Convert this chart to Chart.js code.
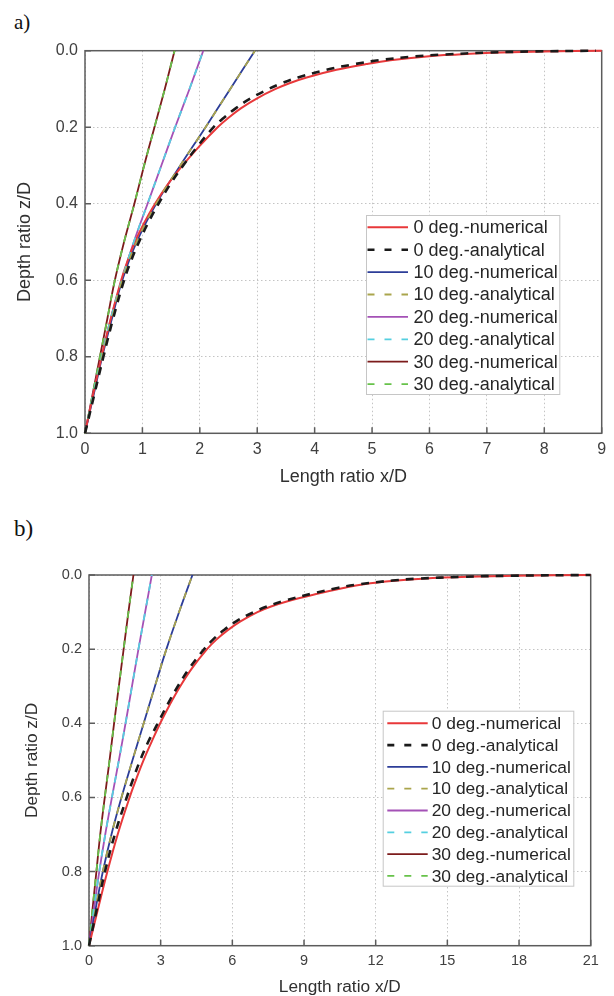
<!DOCTYPE html>
<html>
<head>
<meta charset="utf-8">
<script src="https://cdn.jsdelivr.net/npm/chart.js@4.4.0/dist/chart.umd.min.js"></script>
<style>
  html, body { margin: 0; padding: 0; background: #fff; }
  body { width: 614px; height: 996px; position: relative; overflow: hidden; }
  .panel-label { position: absolute; left: 14px; line-height: 1; color: #111;
    font-family: "Liberation Serif", "DejaVu Serif", serif; }
  .chart-box { position: absolute; left: 0; width: 614px; }
</style>
</head>
<body>
<div class="panel-label" style="top: 12px; font-size: 21px;">a)</div>
<div class="chart-box" style="top: 0; height: 490px;"><canvas id="chartA" width="614" height="490"></canvas></div>
<div class="panel-label" style="top: 517px; font-size: 23px;">b)</div>
<div class="chart-box" style="top: 490px; height: 510px;"><canvas id="chartB" width="614" height="510"></canvas></div>

<script>
// Series names (same for both panels)
const seriesLabels = [
    '0 deg.-numerical', '0 deg.-analytical',
    '10 deg.-numerical', '10 deg.-analytical',
    '20 deg.-numerical', '20 deg.-analytical',
    '30 deg.-numerical', '30 deg.-analytical'
];

// depth ratio z/D used by the inclined cases
const depthSteep = [1.0, 0.9, 0.8, 0.7, 0.6, 0.5, 0.4, 0.3, 0.2, 0.1, 0.0];
// 0 deg curves flatten out towards the surface, so they need more depths
const depthFlat = [1.0, 0.9, 0.8, 0.7, 0.6, 0.55, 0.5, 0.45, 0.4, 0.35, 0.3, 0.25, 0.2, 0.175,
                   0.15, 0.125, 0.1, 0.085, 0.07, 0.05, 0.035, 0.025, 0.015, 0.01, 0.005, 0.002, 0.0];

// Panel a) -- length ratio x/D
const a0num = [0, 0.14, 0.29, 0.45, 0.63, 0.74, 0.87, 1.03, 1.22, 1.44, 1.70, 1.99, 2.31, 2.50,
               2.72, 2.99, 3.32, 3.56, 3.86, 4.38, 4.90, 5.32, 5.95, 6.50, 7.25, 8.00, 9.00];
const a0ana = [0, 0.16, 0.32, 0.49, 0.68, 0.80, 0.94, 1.10, 1.28, 1.48, 1.71, 1.96, 2.24, 2.42,
               2.63, 2.88, 3.20, 3.43, 3.71, 4.20, 4.70, 5.12, 5.75, 6.25, 7.00, 7.80, 8.90];
const a10num = [0, 0.15, 0.30, 0.47, 0.65, 0.90, 1.24, 1.66, 2.10, 2.53, 2.96];
const a10ana = [0, 0.15, 0.30, 0.47, 0.65, 0.90, 1.24, 1.66, 2.10, 2.53, 2.96];
const a20num = [0, 0.14, 0.29, 0.45, 0.64, 0.85, 1.09, 1.33, 1.57, 1.82, 2.06];
const a20ana = [0, 0.14, 0.29, 0.45, 0.64, 0.85, 1.09, 1.33, 1.57, 1.82, 2.06];
const a30num = [0, 0.13, 0.26, 0.39, 0.52, 0.68, 0.86, 1.03, 1.21, 1.39, 1.56];
const a30ana = [0, 0.13, 0.26, 0.39, 0.52, 0.68, 0.86, 1.03, 1.21, 1.39, 1.56];

// Panel b)
const b0num = [0, 0.38, 0.77, 1.20, 1.70, 1.98, 2.28, 2.62, 2.98, 3.38, 3.82, 4.33, 4.94, 5.32,
               5.78, 6.34, 7.05, 7.62, 8.35, 9.60, 10.65, 11.5, 12.9, 13.95, 15.85, 17.9, 21.0];
const b0ana = [0, 0.33, 0.67, 1.08, 1.58, 1.85, 2.14, 2.48, 2.88, 3.28, 3.72, 4.22, 4.82, 5.18,
               5.62, 6.16, 6.90, 7.45, 8.15, 9.35, 10.4, 11.3, 12.7, 13.75, 15.6, 17.6, 21.0];
const b10num = [0, 0.28, 0.58, 0.94, 1.36, 1.82, 2.29, 2.76, 3.24, 3.77, 4.33];
const b10ana = [0, 0.28, 0.58, 0.94, 1.36, 1.82, 2.29, 2.76, 3.24, 3.77, 4.33];
const b20num = [0, 0.21, 0.43, 0.68, 0.96, 1.25, 1.53, 1.80, 2.07, 2.35, 2.63];
const b20ana = [0, 0.21, 0.43, 0.68, 0.96, 1.25, 1.53, 1.80, 2.07, 2.35, 2.63];
const b30num = [0, 0.15, 0.31, 0.47, 0.66, 0.86, 1.05, 1.25, 1.45, 1.65, 1.86];
const b30ana = [0, 0.15, 0.31, 0.47, 0.66, 0.86, 1.05, 1.25, 1.45, 1.65, 1.86];

// Axis ticks
const xMaxA = 9, xStepA = 1;
const xMaxB = 21, xStepB = 3;
const depthTicks = [0, 0.2, 0.4, 0.6, 0.8, 1.0];

const FONT = '"Liberation Sans", Arial, sans-serif';

// line look for each series, in legend order
const styles = [
    { color: '#e8383a', width: 2, dash: [], order: 1 },
    { color: '#1a1a1a', width: 2.6, dash: [8, 7], order: 0 },
    { color: '#2c3d98', width: 1.8, dash: [], order: 1 },
    { color: '#aaa54c', width: 1.8, dash: [7, 8], order: 0 },
    { color: '#a451b6', width: 1.8, dash: [], order: 1 },
    { color: '#55cfe0', width: 1.8, dash: [7, 8], order: 0 },
    { color: '#7c1b1b', width: 1.8, dash: [], order: 1 },
    { color: '#67c24a', width: 1.8, dash: [7, 8], order: 0 }
];

function toPoints(xs, zs) {
    return xs.map((x, i) => ({ x: x, y: zs[i] }));
}

function buildDatasets(seriesList) {
    return seriesList.map((s, i) => ({
        label: seriesLabels[i],
        data: toPoints(s[0], s[1]),
        borderColor: styles[i].color,
        backgroundColor: styles[i].color,
        borderWidth: styles[i].width,
        borderDash: styles[i].dash,
        order: styles[i].order,
        showLine: true,
        pointRadius: 0,
        tension: 0.4,
        clip: false
    }));
}

// legend box drawn inside the plot area
const boxLegend = {
    id: 'boxLegend',
    afterDatasetsDraw(chart, args, opts) {
        const { ctx, chartArea } = chart;
        const x0 = chartArea.left + opts.left;
        const y0 = chartArea.top + opts.top;
        ctx.save();
        ctx.fillStyle = '#ffffff';
        ctx.fillRect(x0, y0, opts.width, opts.height);
        ctx.strokeStyle = '#c6c6c6';
        ctx.lineWidth = 1;
        ctx.strokeRect(x0 + 0.5, y0 + 0.5, opts.width, opts.height);
        ctx.font = opts.fontSize + 'px ' + FONT;
        ctx.textBaseline = 'middle';
        chart.data.datasets.forEach((ds, i) => {
            const y = y0 + opts.firstRow + i * opts.rowGap;
            ctx.save();
            ctx.strokeStyle = ds.borderColor;
            ctx.lineWidth = ds.borderWidth;
            ctx.setLineDash(ds.borderDash.length ? [7, 10] : []);
            ctx.beginPath();
            ctx.moveTo(x0 + opts.lineStart, y);
            ctx.lineTo(x0 + opts.lineEnd, y);
            ctx.stroke();
            ctx.restore();
            ctx.fillStyle = '#262626';
            ctx.fillText(ds.label, x0 + opts.textStart, y + 1);
        });
        ctx.restore();
    }
};

// box frame and inward tick marks
const frame = {
    id: 'frame',
    beforeDatasetsDraw(chart) {
        const { ctx, chartArea: a, scales } = chart;
        ctx.save();
        ctx.strokeStyle = '#5c5c5c';
        ctx.lineWidth = 1.5;
        ctx.strokeRect(a.left, a.top, a.right - a.left, a.bottom - a.top);
        ctx.beginPath();
        scales.x.ticks.forEach(t => {
            const px = scales.x.getPixelForValue(t.value);
            ctx.moveTo(px, a.bottom);
            ctx.lineTo(px, a.bottom - 6);
        });
        scales.y.ticks.forEach(t => {
            const py = scales.y.getPixelForValue(t.value);
            ctx.moveTo(a.left, py);
            ctx.lineTo(a.left + 6, py);
        });
        ctx.stroke();
        ctx.restore();
    }
};

function makeChart(id, datasets, cfg) {
    const ctx = document.getElementById(id).getContext('2d');
    return new Chart(ctx, {
        type: 'scatter',
        data: { datasets: datasets },
        plugins: [frame, boxLegend],
        options: {
            responsive: false,
            animation: false,
            events: [],
            layout: { padding: cfg.padding },
            scales: {
                x: {
                    type: 'linear',
                    min: 0,
                    max: cfg.xMax,
                    afterFit: scale => { scale.height = cfg.xAxisHeight; },
                    ticks: {
                        stepSize: cfg.xStep,
                        padding: cfg.xTickPad,
                        color: '#404040',
                        font: { family: FONT, size: cfg.tickSize },
                        callback: v => String(v)
                    },
                    grid: { color: '#c4c4c4', lineWidth: 1, drawTicks: false, borderDash: [1.5, 2.5] },
                    border: { display: false, dash: [1.5, 2.5] },
                    title: {
                        display: true,
                        text: 'Length ratio x/D',
                        color: '#303030',
                        font: { family: FONT, size: cfg.titleSize },
                        padding: { top: 0, bottom: cfg.xTitlePad }
                    }
                },
                y: {
                    type: 'linear',
                    min: 0,
                    max: 1,
                    reverse: true,
                    afterFit: scale => { scale.width = cfg.yAxisWidth; },
                    afterBuildTicks: scale => { scale.ticks = depthTicks.map(v => ({ value: v })); },
                    ticks: {
                        padding: 7,
                        color: '#404040',
                        font: { family: FONT, size: cfg.tickSize },
                        callback: v => Number(v).toFixed(1)
                    },
                    grid: { color: '#c4c4c4', lineWidth: 1, drawTicks: false, borderDash: [1.5, 2.5] },
                    border: { display: false, dash: [1.5, 2.5] },
                    title: {
                        display: true,
                        text: 'Depth ratio z/D',
                        color: '#303030',
                        font: { family: FONT, size: cfg.titleSize },
                        padding: { top: cfg.yTitlePad, bottom: 0 }
                    }
                }
            },
            plugins: {
                legend: { display: false },
                tooltip: { enabled: false },
                boxLegend: cfg.legend
            }
        }
    });
}

makeChart('chartA', buildDatasets([
    [a0num, depthFlat], [a0ana, depthFlat],
    [a10num, depthSteep], [a10ana, depthSteep],
    [a20num, depthSteep], [a20ana, depthSteep],
    [a30num, depthSteep], [a30ana, depthSteep]
]), {
    xMax: xMaxA, xStep: xStepA,
    padding: { left: 0, top: 50.7, right: 12.3, bottom: 0.7 },
    xAxisHeight: 56, yAxisWidth: 85,
    xTickPad: 7, xTitlePad: 1.5, yTitlePad: 14,
    tickSize: 16, titleSize: 18,
    legend: { left: 281, top: 164.3, width: 193.3, height: 179, firstRow: 12.3, rowGap: 22.4,
              lineStart: 1.5, lineEnd: 42, textStart: 47.6, fontSize: 18 }
});

makeChart('chartB', buildDatasets([
    [b0num, depthFlat], [b0ana, depthFlat],
    [b10num, depthSteep], [b10ana, depthSteep],
    [b20num, depthSteep], [b20ana, depthSteep],
    [b30num, depthSteep], [b30ana, depthSteep]
]), {
    xMax: xMaxB, xStep: xStepB,
    padding: { left: 0, top: 85, right: 23.3, bottom: 0 },
    xAxisHeight: 54.3, yAxisWidth: 89,
    xTickPad: 6.3, xTitlePad: 2.6, yTitlePad: 22,
    tickSize: 14.5, titleSize: 17.3,
    legend: { left: 293.7, top: 135.7, width: 190.6, height: 175, firstRow: 12.6, rowGap: 21.8,
              lineStart: 4.6, lineEnd: 45, textStart: 49, fontSize: 17.4 }
});
</script>
</body>
</html>
